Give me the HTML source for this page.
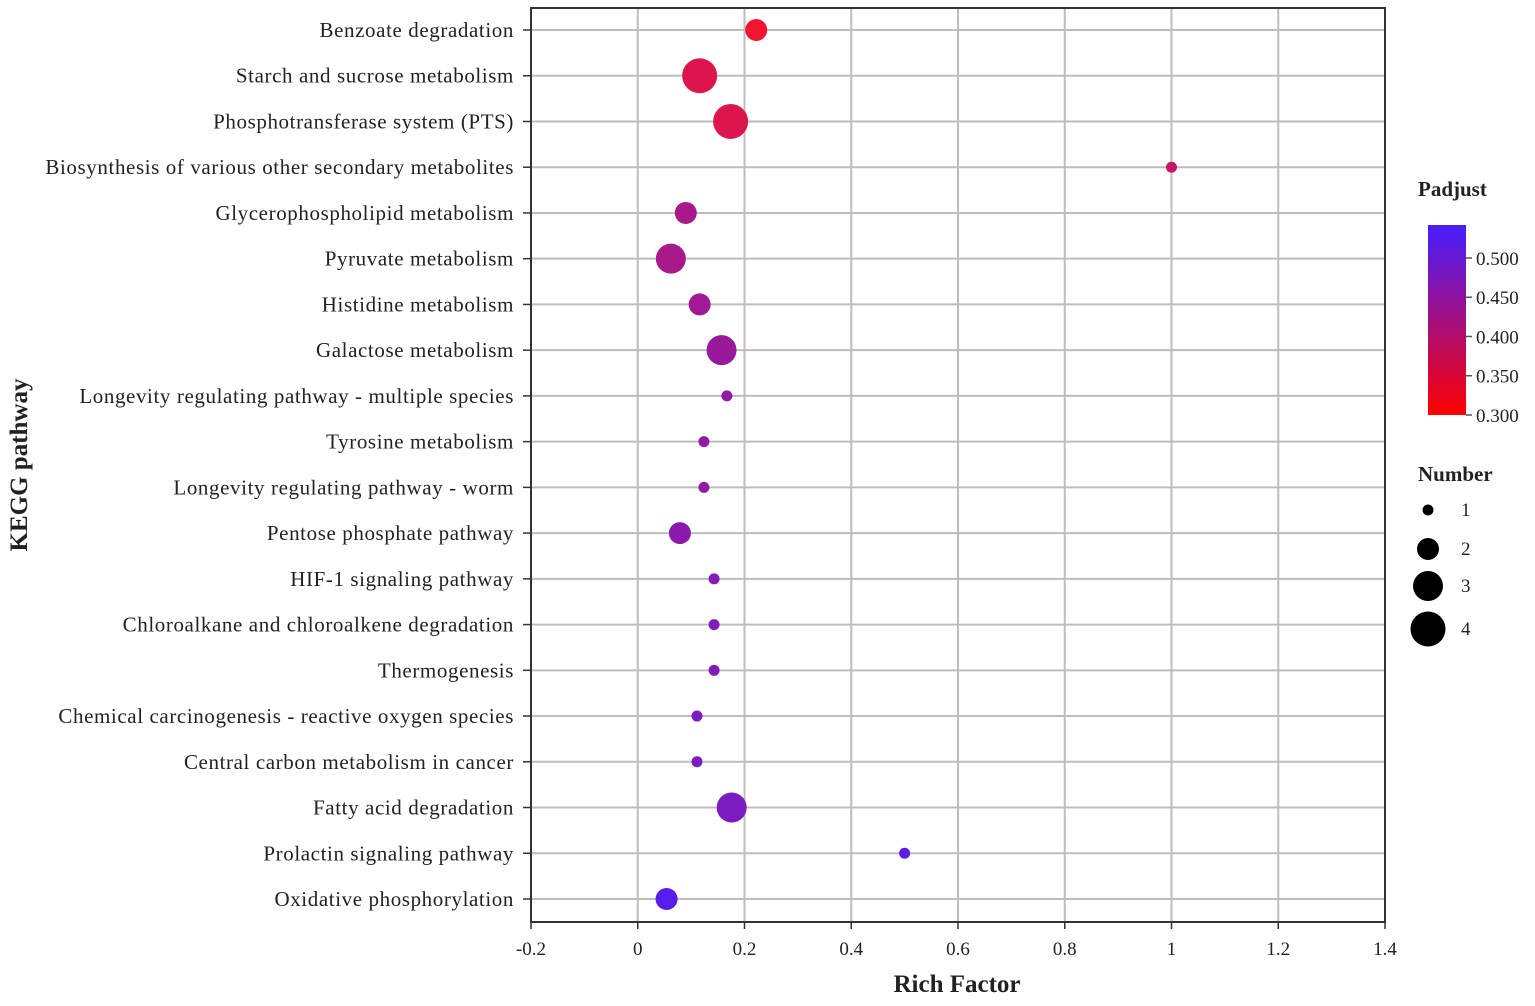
<!DOCTYPE html>
<html><head><meta charset="utf-8"><style>
body{margin:0;background:#fff;}
svg text{font-family:"Liberation Serif",serif;fill:#222;}
</style></head><body>
<svg id="chart" width="1535" height="1001" xmlns="http://www.w3.org/2000/svg">
<defs><linearGradient id="cb" x1="0" y1="1" x2="0" y2="0">
<stop offset="0" stop-color="rgb(255,0,0)"/><stop offset="1" stop-color="rgb(70,30,255)"/></linearGradient></defs>
<g id="grid"></g><g id="marks"></g><g id="axes"></g><g id="legend"></g>
</svg>
<script>
const pathways=["Benzoate degradation","Starch and sucrose metabolism","Phosphotransferase system (PTS)","Biosynthesis of various other secondary metabolites","Glycerophospholipid metabolism","Pyruvate metabolism","Histidine metabolism","Galactose metabolism","Longevity regulating pathway - multiple species","Tyrosine metabolism","Longevity regulating pathway - worm","Pentose phosphate pathway","HIF-1 signaling pathway","Chloroalkane and chloroalkene degradation","Thermogenesis","Chemical carcinogenesis - reactive oxygen species","Central carbon metabolism in cancer","Fatty acid degradation","Prolactin signaling pathway","Oxidative phosphorylation"];
const richFactor=[0.222,0.116,0.174,1.0,0.09,0.062,0.116,0.157,0.167,0.124,0.124,0.079,0.143,0.143,0.143,0.111,0.111,0.176,0.5,0.054];
const numbers=[2,4,4,1,2,3,2,3,1,1,1,2,1,1,1,1,1,3,1,2];
const padjust=[0.31,0.34,0.34,0.37,0.41,0.41,0.42,0.43,0.44,0.44,0.44,0.45,0.46,0.46,0.46,0.47,0.47,0.47,0.51,0.52];
const xTicks=[-0.2,0,0.2,0.4,0.6,0.8,1,1.2,1.4];
const cbTicks=[0.3,0.35,0.4,0.45,0.5];
const sizeLegend=[1,2,3,4];

const NS="http://www.w3.org/2000/svg";
const L=531,R=1385,T=8,B=922;
const x=v=>L+(v+0.2)/1.6*(R-L);
const y=i=>30+i*(899-30)/19;
const rad=n=>[0,5.5,11,15,17.5][n];
const pMin=0.3,pMax=0.542;
const col=p=>{let t=Math.max(0,Math.min(1,(p-pMin)/(pMax-pMin)));return `rgb(${Math.round(250-180*t)},${Math.round(20+10*t)},${Math.round(40+215*t)})`;};
const cbY=p=>415-(p-0.3)/(pMax-0.3)*(415-225);
function mk(tag,attrs,parent,txt){const e=document.createElementNS(NS,tag);for(const k in attrs)e.setAttribute(k,attrs[k]);if(txt!==undefined)e.textContent=txt;document.getElementById(parent).appendChild(e);return e;}

xTicks.forEach(v=>{
 const g=mk('line',{x1:x(v),x2:x(v),y1:T,y2:B,stroke:'#bdbdbd','stroke-width':2},'grid');
 
 
 const tk=mk('line',{x1:x(v),x2:x(v),y1:B,y2:B+7,stroke:'#333','stroke-width':1.5},'axes');
 
 
 const t=mk('text',{x:x(v),y:955,'font-size':19,'text-anchor':'middle'},'axes',String(v));
 
 
});
pathways.forEach((p,i)=>{
 const g=mk('line',{x1:L,x2:R,y1:y(i),y2:y(i),stroke:'#bdbdbd','stroke-width':2},'grid');
 
 
 const tk=mk('line',{x1:L-8,x2:L,y1:y(i),y2:y(i),stroke:'#333','stroke-width':1.5},'axes');
 
 
 const t=mk('text',{x:514,y:y(i)+7,'font-size':21,'text-anchor':'end','letter-spacing':'0.6'},'axes',p);
 
 
 const c=mk('circle',{cx:x(richFactor[i]),cy:y(i),r:rad(numbers[i]),fill:col(padjust[i])},'marks');
 
 
});
const fr=mk('rect',{x:L,y:T,width:R-L,height:B-T,fill:'none',stroke:'#333','stroke-width':2},'axes');


const xt=mk('text',{x:957,y:992,'font-size':25,'font-weight':'bold','text-anchor':'middle'},'axes','Rich Factor');


const yt=mk('text',{x:0,y:0,'font-size':25,'font-weight':'bold','text-anchor':'middle',transform:'translate(27,465) rotate(-90)'},'axes','KEGG pathway');



const pt=mk('text',{x:1418,y:196,'font-size':21,'font-weight':'bold'},'legend','Padjust');


const cb=mk('rect',{x:1428,y:225,width:38,height:190,fill:'url(#cb)'},'legend');


cbTicks.forEach(v=>{
 const l=mk('line',{x1:1466,x2:1472,y1:cbY(v),y2:cbY(v),stroke:'#555','stroke-width':1.5},'legend');
 
 
 const t=mk('text',{x:1476,y:cbY(v)+7,'font-size':19},'legend',v.toFixed(3));
 
 
});
const nt=mk('text',{x:1418,y:481,'font-size':21,'font-weight':'bold'},'legend','Number');


const sy=[510,549,586,629];
sizeLegend.forEach((n,i)=>{
 const c=mk('circle',{cx:1428,cy:sy[i],r:rad(n),fill:'#000'},'legend');
 
 
 const t=mk('text',{x:1461,y:sy[i]+6,'font-size':19},'legend',String(n));
 
 
});
</script>
</body></html>
